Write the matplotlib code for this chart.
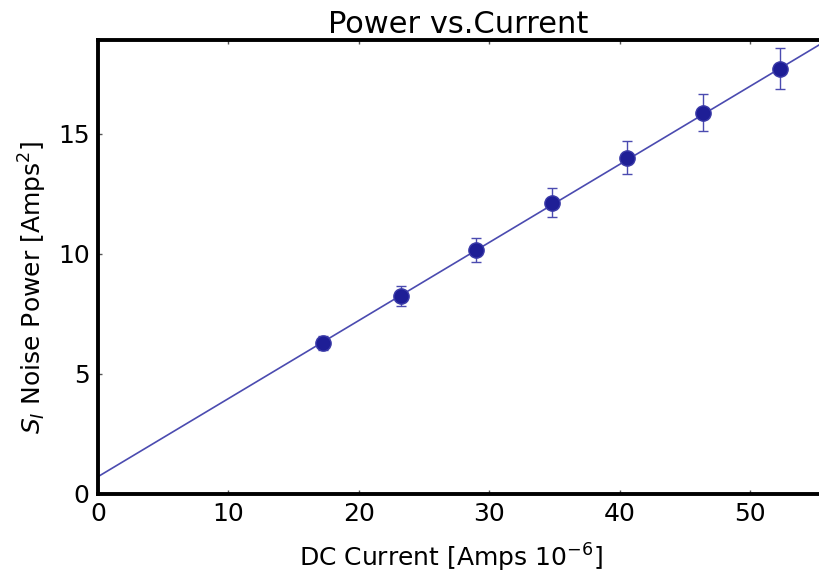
import matplotlib
matplotlib.use("Agg")
import matplotlib.pyplot as plt
import numpy as np

# measured points (DC current in 1e-6 A, noise power)
current = [17.28, 23.24, 28.99, 34.82, 40.57, 46.40, 52.30]
power = [6.28, 8.25, 10.17, 12.13, 14.00, 15.88, 17.71]
power_err = [0.30, 0.42, 0.50, 0.60, 0.69, 0.77, 0.86]

# linear fit shown in the figure
fit_intercept = 0.72
fit_slope = 0.325

x_ticks = [0, 10, 20, 30, 40, 50]
y_ticks = [0, 5, 10, 15]

plt.rcParams["mathtext.fontset"] = "dejavusans"

fig = plt.figure(figsize=(8.19, 5.75), dpi=100)
ax = fig.add_axes([0.1196, 0.1409, 0.8804, 0.7895])

fit_x = np.array([0, 55.3])
ax.plot(fit_x, fit_intercept + fit_slope * fit_x, color="#4b4bb0", lw=1.2, zorder=2)

ax.errorbar(current, power, yerr=power_err, fmt="o", color="#22229a",
            markerfacecolor="#1e1e96", markeredgecolor="#3a3aa8", markersize=11,
            ecolor="#4b4bb0", elinewidth=1.0, capsize=3.5, capthick=1.0, zorder=3)

ax.set_xlim(0, 55.3)
ax.set_ylim(0, 18.9)
ax.set_xticks(x_ticks)
ax.set_yticks(y_ticks)

for side in ["left", "bottom", "top"]:
    ax.spines[side].set_linewidth(2.8)
ax.spines["right"].set_visible(False)

ax.tick_params(direction="in", length=3, width=1, color="#555555",
               top=True, labelsize=18, pad=6)

ax.set_title("Power vs.Current", fontsize=22, family="Liberation Sans Narrow", pad=5)
ax.set_xlabel("DC Current [Amps $10^{-6}$]", fontsize=18)
ax.set_ylabel("$S_I$ Noise Power [Amps$^2$]", fontsize=18)
ax.xaxis.set_label_coords(0.49, -0.105)
ax.yaxis.set_label_coords(-0.068, 0.454)

fig.savefig("out.png", dpi=100)
